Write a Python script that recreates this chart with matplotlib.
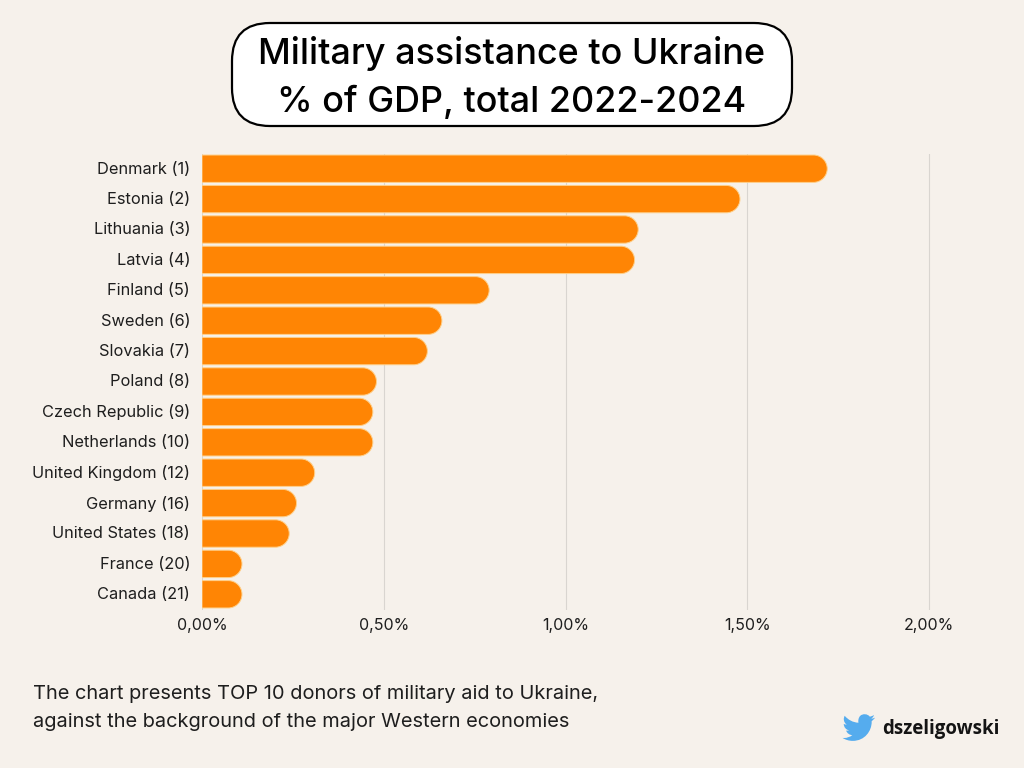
import matplotlib
matplotlib.use("Agg")
import matplotlib.pyplot as plt
from matplotlib.patches import FancyBboxPatch, PathPatch
from matplotlib.path import Path
from matplotlib.transforms import Affine2D, ScaledTranslation

countries = ["Denmark (1)", "Estonia (2)", "Lithuania (3)", "Latvia (4)", "Finland (5)",
             "Sweden (6)", "Slovakia (7)", "Poland (8)", "Czech Republic (9)", "Netherlands (10)",
             "United Kingdom (12)", "Germany (16)", "United States (18)", "France (20)", "Canada (21)"]
values = [1.72, 1.48, 1.20, 1.19, 0.79, 0.66, 0.62, 0.48, 0.47, 0.47, 0.31, 0.26, 0.24, 0.11, 0.11]
x_ticks = [0.0, 0.5, 1.0, 1.5, 2.0]
x_tick_labels = ["0,00%", "0,50%", "1,00%", "1,50%", "2,00%"]
title_lines = ["Military assistance to Ukraine", "% of GDP, total 2022-2024"]
note_lines = ["The chart presents TOP 10 donors of military aid to Ukraine,",
              "against the background of the major Western economies"]
handle = "dszeligowski"

BG = "#F6F1EB"
ORANGE = "#FF8504"
EDGE = "#FFD08A"
GRID = "#D9D5D0"
INK = "#1E1E1E"
W, H = 1024, 768

plt.rcParams["font.family"] = ["Inter", "DejaVu Sans"]
fig = plt.figure(figsize=(W / 100, H / 100), dpi=100, facecolor=BG)

# full-figure overlay in pixel units
ov = fig.add_axes([0, 0, 1, 1], zorder=3)
ov.set_xlim(0, W)
ov.set_ylim(H, 0)
ov.axis("off")

# chart axes
L, R, T, B = 202, 1000, 153.5, 609.5
ax = fig.add_axes([L / W, 1 - B / H, (R - L) / W, (B - T) / H], zorder=2)
ax.set_facecolor("none")
ax.set_xlim(0, (R - L) / 363.5)
ax.set_ylim(len(values) - 0.5, -0.5)
for s in ax.spines.values():
    s.set_visible(False)
ax.xaxis.grid(True, color=GRID, linewidth=0.8, zorder=0)
ax.yaxis.grid(False)
ax.set_axisbelow(True)
ax.set_xticks(x_ticks)
ax.set_xticklabels(x_tick_labels, fontsize=11.5, color=INK)
ax.set_yticks(range(len(countries)))
ax.set_yticklabels(countries, fontsize=11.8, color=INK)
ax.tick_params(axis="both", length=0)
ax.tick_params(axis="y", pad=8.5)
ax.tick_params(axis="x", pad=6)
up = ScaledTranslation(0, 1 / 100, fig.dpi_scale_trans)
for lab in ax.get_yticklabels():
    lab.set_transform(lab.get_transform() + up)

# rounded-end bars, built from the data through the axes' scales
half = 0.45
rx = half * 30.4 / 363.5
for i, v in enumerate(values):
    k = 0.5523
    r = min(rx, v)
    top, bot = i - half, i + half
    xs = v - r
    verts = [(0, top), (xs, top),
             (xs + k * r, top), (v, i - half + half * (1 - k)), (v, i),
             (v, i + half * k), (xs + k * r, bot), (xs, bot),
             (0, bot), (0, top)]
    codes = [Path.MOVETO, Path.LINETO,
             Path.CURVE4, Path.CURVE4, Path.CURVE4,
             Path.CURVE4, Path.CURVE4, Path.CURVE4,
             Path.LINETO, Path.CLOSEPOLY]
    ax.add_patch(PathPatch(Path(verts, codes), facecolor=ORANGE, edgecolor=EDGE,
                           linewidth=0.7, zorder=2))

# title box
ov.add_patch(FancyBboxPatch((232 + 38, 23 + 38), 560 - 76, 103 - 76,
                            boxstyle="round,pad=38,rounding_size=38",
                            facecolor="white", edgecolor="black", linewidth=1.6))
for y, line in zip((53.5, 101.5), title_lines):
    ov.text(512, y, line, ha="center", va="center", fontsize=25.9, fontweight="medium",
            color="black", family=["Inter", "DejaVu Sans"])

for y, line in zip((694, 722), note_lines):
    ov.text(33, y, line, ha="left", va="center", fontsize=14.4, color=INK)

ov.text(882, 729, handle, ha="left", va="center", fontsize=13.4, fontweight="bold",
        color="#141414", family=["Open Sans", "DejaVu Sans"])

# bird icon drawn as a vector path (24-unit icon box)
M, Ln, C = Path.MOVETO, Path.LINETO, Path.CURVE4
segs = [
    ((23.95, 4.57),),
    ((23.1, 4.95), (22.1, 5.23), (21.13, 5.35)),
    ((22.14, 4.73), (22.92, 3.77), (23.29, 2.62)),
    ((22.34, 3.18), (21.29, 3.58), (20.16, 3.81)),
    ((18.5, 1.6), (15.0, 1.4), (13.1, 3.2)),
    ((11.9, 4.4), (11.4, 6.5), (11.78, 8.29)),
    ((7.69, 8.1), (4.07, 6.13), (1.64, 3.16)),
    ((1.2, 3.9), (0.97, 4.75), (0.97, 5.64)),
    ((0.97, 7.35), (1.84, 8.85), (3.16, 9.73)),
    ((2.35, 9.7), (1.6, 9.5), (0.93, 9.12)),
    ((0.93, 11.6), (2.6, 13.5), (4.88, 13.95)),
    ((4.15, 14.15), (3.38, 14.2), (2.66, 14.03)),
    ((3.3, 16.0), (5.1, 17.4), (7.27, 17.45)),
    ((5.55, 18.8), (3.4, 19.55), (1.17, 19.55)),
    ((0.78, 19.55), (0.39, 19.53), (0.0, 19.49)),
    ((2.2, 20.9), (4.8, 21.7), (7.56, 21.7)),
    ((16.6, 21.7), (21.55, 14.2), (21.55, 7.7)),
    ((21.55, 7.5), (21.55, 7.3), (21.54, 7.09)),
    ((22.5, 6.4), (23.34, 5.55), (24.0, 4.59)),
]
verts, codes = [segs[0][0]], [M]
for s in segs[1:]:
    verts.extend(s)
    codes.extend([C, C, C])
bird = Path(verts, codes)
tr = Affine2D().scale(32.5 / 24).translate(842.5, 711.5) + ov.transData
ov.add_patch(PathPatch(bird, facecolor="#55ACEE", edgecolor="none", transform=tr))

fig.savefig("out.png", dpi=100, facecolor=BG)
